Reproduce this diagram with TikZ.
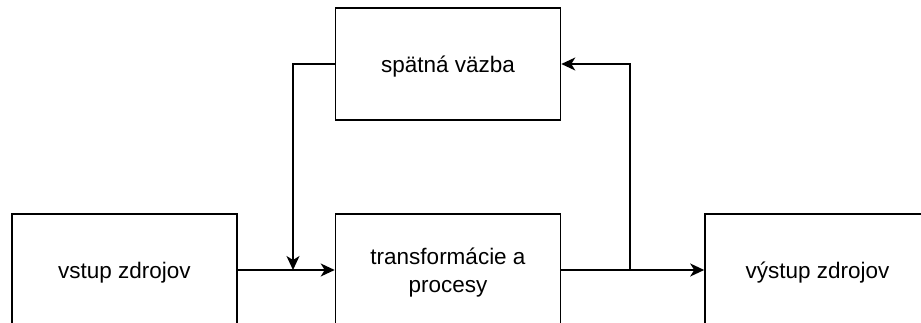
\documentclass[tikz,border=0pt]{standalone}
\usepackage{fontspec}
\setmainfont{Liberation Sans}
\usetikzlibrary{arrows.meta}
\begin{document}
\begin{tikzpicture}[x=1pt,y=-1pt,
  blk/.style={draw,line width=1.6pt,minimum width=225pt,minimum height=112pt,inner sep=0pt,align=center,text depth=0pt,font=\fontsize{22.5}{28}\selectfont},
  arr/.style={line width=1.6pt,-{Stealth[length=14pt,width=13pt,inset=4pt]}},
  ln/.style={line width=1.6pt}]
\useasboundingbox (0,0) rectangle (921,323);
\node[blk] (in) at (124.5,270) {vstup zdrojov};
\node[blk] (tp) at (448,270) {transformácie a\\procesy};
\node[blk] (out) at (817.5,270) {výstup zdrojov};
\node[blk] (fb) at (448,64) {spätná väzba};
\coordinate (j1) at (293,270);
\coordinate (j2) at (630,270);
\draw[arr] (in.east) -- (tp.west);
\draw[arr] (fb.west) -| (j1);
\draw[arr] (tp.east) -- (out.west);
\draw[arr] (j2) |- (fb.east);
\end{tikzpicture}
\end{document}
